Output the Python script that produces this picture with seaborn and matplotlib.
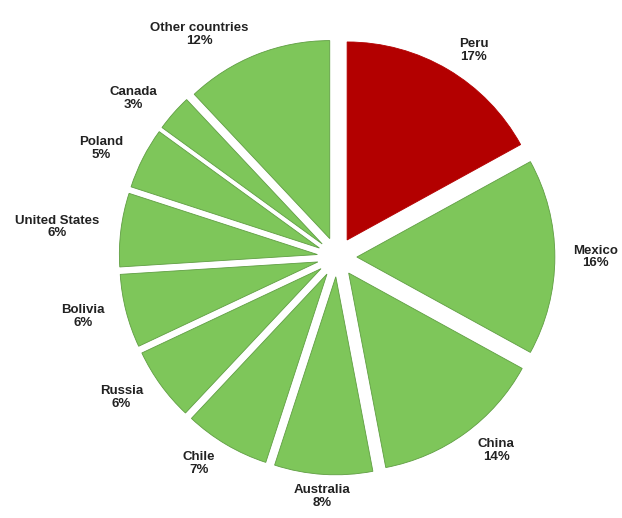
import numpy as np
import seaborn as sns
import matplotlib.pyplot as plt

# Datos: orden horario empezando en las 12
paises = ["Peru", "Mexico", "China", "Australia", "Chile", "Russia",
          "Bolivia", "United States", "Poland", "Canada", "Other countries"]
porcentajes = [17, 16, 14, 8, 7, 6, 6, 6, 5, 3, 12]
destacado = "Peru"

sns.set_theme(style="white")
plt.rcParams["font.family"] = ["Liberation Sans", "DejaVu Sans"]

rojo = "#b30000"
verde = "#7ec65a"
colores = [rojo if p == destacado else verde for p in paises]
bordes = [rojo if p == destacado else "#5f9e42" for p in paises]
etiquetas = [f"{p}\n{v}%" for p, v in zip(paises, porcentajes)]

fig = plt.figure(figsize=(6.22, 5.18), dpi=100)
ax = fig.add_axes([0, 0, 1, 1])

wedges, textos = ax.pie(
    porcentajes,
    labels=etiquetas,
    colors=colores,
    startangle=90,
    counterclock=False,
    explode=[0.1] * len(porcentajes),
    labeldistance=1.11,
    wedgeprops=dict(linewidth=0.6),
    textprops=dict(fontsize=9.5, fontweight="bold", color="#222222",
                   multialignment="center", linespacing=1.1),
)
for w, b in zip(wedges, bordes):
    w.set_edgecolor(b)

# etiquetas casi verticales centradas
for t in textos:
    x, y = t.get_position()
    if abs(x) < 0.25:
        t.set_horizontalalignment("center")
    if abs(y) < 0.1:
        # la de la derecha un poco hacia dentro
        t.set_position((x - 0.02, y))

ax.set_xlim(-1.702, 1.439)
ax.set_ylim(-1.318, 1.298)
ax.set_aspect("equal")
ax.axis("off")

fig.savefig("out.png", dpi=100)
